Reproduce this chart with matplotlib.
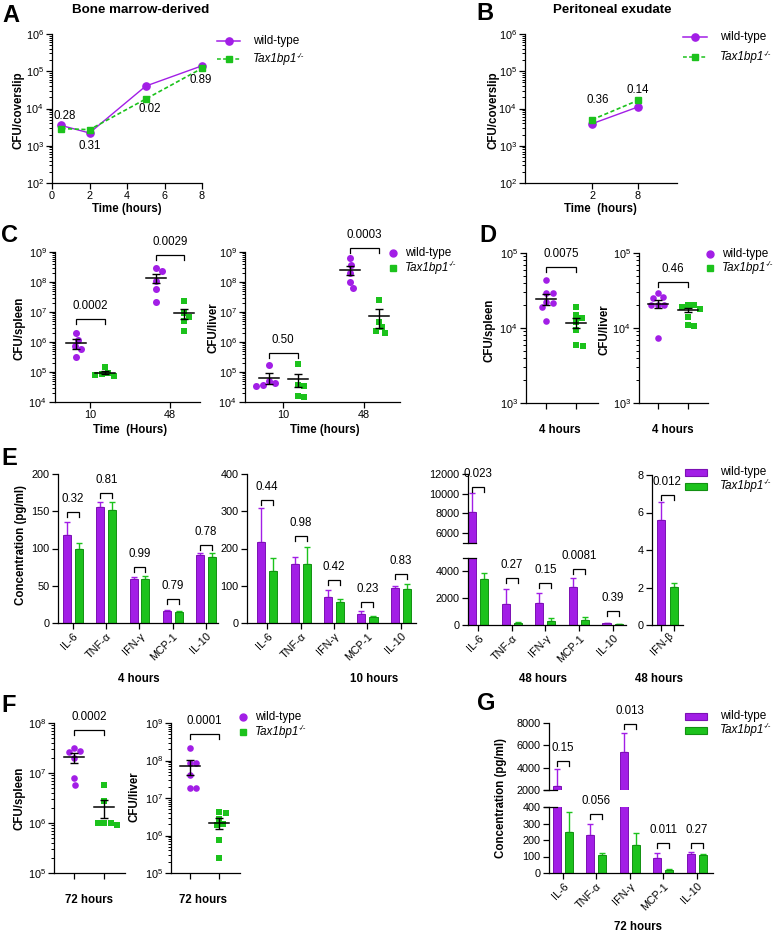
import numpy as np
import matplotlib
matplotlib.use('Agg')
import matplotlib.pyplot as plt
from matplotlib.lines import Line2D
from matplotlib.patches import Rectangle
from matplotlib.ticker import FixedLocator, NullFormatter, LogFormatterSciNotation

plt.rcParams['font.family'] = ['Liberation Sans', 'DejaVu Sans']
plt.rcParams['mathtext.fontset'] = 'custom'
plt.rcParams['mathtext.rm'] = 'Liberation Sans'
plt.rcParams['mathtext.it'] = 'Liberation Sans:italic'
plt.rcParams['mathtext.bf'] = 'Liberation Sans:bold'
plt.rcParams['axes.linewidth'] = 0.9

# ---------------- DATA ----------------
# A: bone marrow-derived macrophages
a_time = [0.5, 2, 5, 8]
a_wt = [3.5e3, 2.2e3, 4.0e4, 1.4e5]
a_ko = [2.9e3, 2.7e3, 1.8e4, 1.2e5]
a_p = ['0.28', '0.31', '0.02', '0.89']

# B: peritoneal exudate
b_time = ['2', '8']
b_wt = [3.9e3, 1.1e4]
b_ko = [5.0e3, 1.65e4]
b_p = ['0.36', '0.14']

# C: spleen / liver at 10 and 48 h
c_time = ['10', '48']
c_spleen_wt = [[2.0e6, 1.2e6, 7.4e5, 5.9e5, 3.2e5], [2.9e8, 2.4e8, 1.1e8, 5.7e7, 2.1e7]]
c_spleen_ko = [[1.45e5, 9.5e4, 8.8e4, 8.2e4, 7.6e4], [2.3e7, 9.5e6, 7.0e6, 5.2e6, 2.3e6]]
c_spleen_wt_mean = [9.3e5, 1.4e8]
c_spleen_wt_sem = [3.5e5, 4.5e7]
c_spleen_ko_mean = [9.5e4, 9.5e6]
c_spleen_ko_sem = [1.2e4, 3.5e6]
c_spleen_p = ['0.0002', '0.0029']
c_liver_wt = [[1.7e5, 5.0e4, 4.2e4, 3.6e4, 3.4e4], [6.2e8, 3.7e8, 2.0e8, 1.0e8, 6.2e7]]
c_liver_ko = [[1.8e5, 3.7e4, 3.4e4, 1.6e4, 1.5e4], [2.6e7, 4.8e6, 3.1e6, 2.3e6, 2.0e6]]
c_liver_wt_mean = [6.5e4, 2.5e8]
c_liver_wt_sem = [2.5e4, 8.0e7]
c_liver_ko_mean = [5.8e4, 7.6e6]
c_liver_ko_sem = [2.6e4, 4.6e6]
c_liver_p = ['0.50', '0.0003']

# D: 4 hours
d_spleen_wt = [4.4e4, 2.9e4, 2.9e4, 2.2e4, 2.15e4, 1.9e4, 1.23e4]
d_spleen_ko = [1.9e4, 1.5e4, 1.35e4, 1.2e4, 9.3e3, 5.9e3, 5.8e3]
d_spleen_mean = [2.4e4, 1.17e4]
d_spleen_sem = [4.0e3, 1.8e3]
d_spleen_p = '0.0075'
d_liver_wt = [2.9e4, 2.6e4, 2.5e4, 2.0e4, 2.0e4, 2.0e4, 7.3e3]
d_liver_ko = [2.0e4, 2.0e4, 1.9e4, 1.8e4, 1.4e4, 1.1e4, 1.05e4]
d_liver_mean = [2.1e4, 1.74e4]
d_liver_sem = [2.5e3, 1.3e3]
d_liver_p = '0.46'

# E: cytokines
cytokines = ['IL-6', 'TNF-α', 'IFN-γ', 'MCP-1', 'IL-10']
e4_wt = [118, 156, 59, 16, 91]
e4_wt_err = [17, 7, 3, 1, 3]
e4_ko = [100, 152, 59, 15, 89]
e4_ko_err = [7, 10, 4, 1.5, 5]
e4_p = ['0.32', '0.81', '0.99', '0.79', '0.78']
e10_wt = [217, 158, 71, 25, 94]
e10_wt_err = [92, 18, 17, 6, 6]
e10_ko = [139, 159, 56, 17, 91]
e10_ko_err = [36, 45, 9, 1.5, 13]
e10_p = ['0.44', '0.98', '0.42', '0.23', '0.83']
e48_wt = [8100, 1600, 1650, 2830, 120]
e48_wt_err = [1950, 1100, 750, 700, 50]
e48_ko = [3400, 150, 300, 370, 50]
e48_ko_err = [500, 50, 200, 240, 10]
e48_p = ['0.023', '0.27', '0.15', '0.0081', '0.39']
ifnb_label = ['IFN-β']
ifnb_wt = [5.6]
ifnb_wt_err = [0.95]
ifnb_ko = [2.05]
ifnb_ko_err = [0.17]
ifnb_p = '0.012'

# F: 72 hours
f_spleen_wt = [3.2e7, 2.8e7, 2.6e7, 2.0e7, 7.8e6, 5.8e6]
f_spleen_ko = [5.8e6, 2.8e6, 1.0e6, 1.0e6, 1.0e6, 9.0e5]
f_spleen_mean = [2.05e7, 2.05e6]
f_spleen_sem = [4.5e6, 8.0e5]
f_spleen_p = '0.0002'
f_liver_wt = [2.1e8, 8.7e7, 8.5e7, 4.2e7, 1.9e7, 1.9e7]
f_liver_ko = [4.3e6, 4.0e6, 2.7e6, 2.0e6, 1.9e6, 7.5e5, 2.5e5]
f_liver_mean = [7.1e7, 2.2e6]
f_liver_sem = [3.0e7, 7.0e5]
f_liver_p = '0.0001'

# G: cytokines 72 hours
g_wt = [2360, 230, 5400, 90, 116]
g_wt_err = [1500, 70, 1700, 30, 10]
g_ko = [246, 110, 170, 20, 110]
g_ko_err = [124, 10, 70, 5, 4]
g_p = ['0.15', '0.056', '0.013', '0.011', '0.27']

WT_LABEL = 'wild-type'
KO_NAME = 'Tax1bp1'
KO_SUP = '-/-'

# ---------------- STYLE ----------------
PURPLE = '#A21EE6'
PURPLE_E = '#7C10B4'
GREEN = '#1CC21C'
GREEN_E = '#129012'
TICK_FS = 7.8
P_FS = 8.3
LAB_FS = 8.3
LEG_FS = 8.5

W, H = 776, 933
fig = plt.figure(figsize=(W / 100, H / 100), dpi=100)
renderer = fig.canvas.get_renderer()


def axpx(x0, y0, x1, y1):
    return fig.add_axes([x0 / W, 1 - y1 / H, (x1 - x0) / W, (y1 - y0) / H])


def ftext(x, y, s, **kw):
    kw.setdefault('ha', 'center')
    kw.setdefault('va', 'center')
    return fig.text(x / W, 1 - y / H, s, **kw)


def style(ax, bottom=True):
    for s in ['top', 'right']:
        ax.spines[s].set_visible(False)
    if not bottom:
        ax.spines['bottom'].set_visible(False)
        ax.tick_params(axis='x', bottom=False, labelbottom=False)
    ax.tick_params(direction='out', length=4, width=0.9, labelsize=TICK_FS, pad=2)
    ax.tick_params(which='minor', direction='out', length=2, width=0.7)
    ax.patch.set_alpha(0)


def logy(ax, lo, hi):
    ax.set_yscale('log')
    ax.set_ylim(10 ** lo, 10 ** hi)
    ax.yaxis.set_major_locator(FixedLocator([10.0 ** k for k in range(lo, hi + 1)]))
    ax.yaxis.set_major_formatter(LogFormatterSciNotation())
    minors = [m * 10.0 ** k for k in range(lo, hi) for m in range(2, 10)]
    ax.yaxis.set_minor_locator(FixedLocator(minors))
    ax.yaxis.set_minor_formatter(NullFormatter())


def px_per_unit(ax):
    a = ax.transData.transform([(0, 1), (1, 1)])
    return a[1, 0] - a[0, 0]


def swarm(ax, vals, d_px):
    ys = ax.transData.transform(np.column_stack([np.zeros(len(vals)), vals]))[:, 1]
    offs = np.zeros(len(vals))
    placed = []
    cands = sorted(np.arange(-40, 40.5, 0.5), key=lambda c: (abs(c), -c))
    for i in np.argsort(-ys):
        for c in cands:
            if all((c - px) ** 2 + (ys[i] - py) ** 2 >= d_px ** 2 for px, py in placed):
                offs[i] = c
                placed.append((c, ys[i]))
                break
    return offs / px_per_unit(ax)


def points(ax, xc, vals, marker, color, d_px=7.0):
    xo = swarm(ax, vals, d_px * 0.98)
    ax.scatter(xc + xo, vals, s=(d_px * 0.72) ** 2, marker=marker, color=color,
               linewidths=0, zorder=3, clip_on=False)


def mean_sem(ax, x, m, s, hw_px=10):
    hw = hw_px / px_per_unit(ax)
    ax.plot([x - hw, x + hw], [m, m], color='k', lw=1.1, zorder=5, clip_on=False)
    ax.errorbar([x], [m], yerr=[[s], [s]], fmt='none', ecolor='k', elinewidth=1.0,
                capsize=3.2, capthick=1.0, zorder=5, clip_on=False)


def bracket(ax, x1, x2, y, text, leg=5, toff=13):
    d = ax.transData.transform([(x1, y)])
    yl = ax.transData.inverted().transform([(d[0, 0], d[0, 1] - leg)])[0, 1]
    ax.plot([x1, x1, x2, x2], [yl, y, y, yl], color='k', lw=0.9, clip_on=False,
            solid_joinstyle='miter', zorder=6)
    ax.annotate(text, xy=((x1 + x2) / 2, y), xytext=(0, toff * 0.72), textcoords='offset points',
                ha='center', va='center', fontsize=P_FS, annotation_clip=False)


def bars(ax, wt, wt_err, ko, ko_err, off=0.18, w=0.24):
    xs = np.arange(len(wt))
    n = len(wt)
    ax.bar(xs - off, wt, w, color=PURPLE, edgecolor=PURPLE_E, lw=0.7, zorder=2)
    ax.errorbar(xs - off, wt, yerr=[np.zeros(n), wt_err], fmt='none', ecolor=PURPLE,
                elinewidth=1.0, capsize=2, capthick=1.0, zorder=1)
    ax.bar(xs + off, ko, w, color=GREEN, edgecolor=GREEN_E, lw=0.7, zorder=2)
    ax.errorbar(xs + off, ko, yerr=[np.zeros(n), ko_err], fmt='none', ecolor=GREEN,
                elinewidth=1.0, capsize=2, capthick=1.0, zorder=1)


def cat_ticks(ax, labels):
    ax.set_xticks(np.arange(len(labels)))
    ax.set_xticklabels(labels, rotation=45, ha='right', va='top', rotation_mode='anchor',
                       fontsize=TICK_FS)


def break_cap(x, y):
    fig.add_artist(Line2D([(x - 5) / W, (x + 8) / W], [1 - y / H, 1 - y / H],
                          transform=fig.transFigure, color='k', lw=0.9))


def leg_line(x0, x1, y, color, ls, marker, ms):
    fig.add_artist(Line2D([x0 / W, x1 / W], [1 - y / H, 1 - y / H], transform=fig.transFigure,
                          color=color, ls=ls, lw=1.1))
    fig.add_artist(Line2D([(x0 + x1) / 2 / W], [1 - y / H], transform=fig.transFigure,
                          color=color, marker=marker, ms=ms, ls='none'))


def leg_marker(x, y, marker, color, ms):
    fig.add_artist(Line2D([x / W], [1 - y / H], transform=fig.transFigure, color=color,
                          marker=marker, ms=ms, ls='none'))


def leg_patch(x, y, fc, ec):
    fig.add_artist(Rectangle((x / W, 1 - (y + 3.5) / H), 22 / W, 7 / H, transform=fig.transFigure,
                             facecolor=fc, edgecolor=ec, lw=0.8))


def ltext(x, y, s):
    ftext(x, y, s, ha='left', fontsize=LEG_FS)


def ko_text(x, y):
    t = ftext(x, y, KO_NAME, ha='left', fontsize=LEG_FS, style='italic')
    bb = t.get_window_extent(renderer)
    fig.text((bb.x1 - 1.0) / W, (bb.y1 + 0.5) / H, KO_SUP, ha='left', va='top',
             fontsize=5.6, style='italic')


def legend_texts(x, y1, y2):
    ltext(x, y1, WT_LABEL)
    ko_text(x, y2)


def panel_letter(x, y, s):
    ftext(x, y, s, fontsize=17, fontweight='bold')


# ---------------- PANEL A ----------------
ax = axpx(52, 34, 202, 183)
style(ax)
logy(ax, 2, 6)
ax.set_xlim(0, 8)
ax.set_xticks([0, 2, 4, 6, 8])
ax.plot(a_time, a_wt, color=PURPLE, lw=1.0, marker='o', ms=5.2, zorder=3, clip_on=False)
ax.plot(a_time, a_ko, color=GREEN, lw=1.2, ls=(0, (2.5, 1.5)), marker='s', ms=4.5, zorder=3,
        clip_on=False)
a_txt = [(0.7, 6.3e3), (2.0, 1.0e3), (5.2, 9.8e3), (7.95, 5.9e4)]
for (tx, ty), s in zip(a_txt, a_p):
    ax.text(tx, ty, s, ha='center', va='center', fontsize=P_FS)
panel_letter(11, 15, 'A')
ftext(141, 10, 'Bone marrow-derived', fontsize=9.6, fontweight='bold')
ftext(19, 110, 'CFU/coverslip', rotation=90, fontsize=LAB_FS, fontweight='bold')
ftext(127, 209, 'Time (hours)', fontsize=LAB_FS, fontweight='bold')
leg_line(217, 240, 41, PURPLE, '-', 'o', 5.2)
leg_line(217, 240, 59, GREEN, (0, (2.5, 1.5)), 's', 4.5)
legend_texts(253, 41, 59)

# ---------------- PANEL B ----------------
ax = axpx(525, 34, 677, 183)
style(ax)
logy(ax, 2, 6)
ax.set_xlim(-1.46, 1.85)
ax.set_xticks([0, 1])
ax.set_xticklabels(b_time)
ax.plot([0, 1], b_wt, color=PURPLE, lw=1.0, marker='o', ms=5.2, zorder=3)
ax.plot([0, 1], b_ko, color=GREEN, lw=1.2, ls=(0, (2.5, 1.5)), marker='s', ms=4.5, zorder=3)
b_txt = [(0.12, 1.7e4), (1.0, 3.2e4)]
for (tx, ty), s in zip(b_txt, b_p):
    ax.text(tx, ty, s, ha='center', va='center', fontsize=P_FS)
panel_letter(485, 13, 'B')
ftext(612, 10, 'Peritoneal exudate', fontsize=9.6, fontweight='bold')
ftext(494, 110, 'CFU/coverslip', rotation=90, fontsize=LAB_FS, fontweight='bold')
ftext(600, 209, 'Time  (hours)', fontsize=LAB_FS, fontweight='bold')
leg_line(683, 707, 37, PURPLE, '-', 'o', 5.2)
leg_line(683, 707, 57, GREEN, (0, (2.5, 1.5)), 's', 4.5)
legend_texts(720, 37, 57)


# ---------------- PANEL C ----------------
def c_panel(rect, xlim, wt, ko, wtm, wts, kom, kos, pv, br_y, ylab, xlab, ylab_x, xlab_x):
    ax = axpx(*rect)
    style(ax)
    logy(ax, 4, 9)
    ax.set_xlim(*xlim)
    ax.set_xticks([0, 1])
    ax.set_xticklabels(c_time)
    off = 0.18
    for i in range(2):
        points(ax, i - off, wt[i], 'o', PURPLE, 7)
        points(ax, i + off, ko[i], 's', GREEN, 6.5)
        mean_sem(ax, i - off, wtm[i], wts[i])
        mean_sem(ax, i + off, kom[i], kos[i])
        bracket(ax, i - off, i + off, br_y[i], pv[i])
    ftext(ylab_x, 328, ylab, rotation=90, fontsize=LAB_FS, fontweight='bold')
    ftext(xlab_x, 430, xlab, fontsize=LAB_FS, fontweight='bold')
    return ax


c_panel((55, 252, 200, 402), (-0.44, 1.375), c_spleen_wt, c_spleen_ko, c_spleen_wt_mean,
        c_spleen_wt_sem, c_spleen_ko_mean, c_spleen_ko_sem, c_spleen_p, [5.9e6, 7.9e8],
        'CFU/spleen', 'Time  (Hours)', 20, 130)
c_panel((245, 252, 400, 402), (-0.47, 1.44), c_liver_wt, c_liver_ko, c_liver_wt_mean,
        c_liver_wt_sem, c_liver_ko_mean, c_liver_ko_sem, c_liver_p, [4.4e5, 1.36e9],
        'CFU/liver', 'Time (hours)', 213, 325)
panel_letter(10, 235, 'C')
leg_marker(393, 253, 'o', PURPLE, 5)
leg_marker(393, 268, 's', GREEN, 4.6)
legend_texts(405, 253, 268)


# ---------------- PANEL D / F (two-group scatter) ----------------
def two_group(rect, xlim, lo, hi, wt, ko, m, s, pv, br_y, ylab, ylab_x, ylab_y, xlab, xlab_x, xlab_y,
              d_px=6.6):
    ax = axpx(*rect)
    style(ax)
    logy(ax, lo, hi)
    ax.set_xlim(*xlim)
    ax.set_xticks([0, 1])
    ax.set_xticklabels([])
    points(ax, 0, wt, 'o', PURPLE, d_px)
    points(ax, 1, ko, 's', GREEN, d_px * 0.95)
    mean_sem(ax, 0, m[0], s[0])
    mean_sem(ax, 1, m[1], s[1])
    bracket(ax, 0, 1, br_y, pv)
    ftext(ylab_x, ylab_y, ylab, rotation=90, fontsize=LAB_FS, fontweight='bold')
    ftext(xlab_x, xlab_y, xlab, fontsize=LAB_FS, fontweight='bold')
    return ax


two_group((526, 253, 598, 403), (-0.67, 1.73), 3, 5, d_spleen_wt, d_spleen_ko, d_spleen_mean,
          d_spleen_sem, d_spleen_p, 6.5e4, 'CFU/spleen', 490, 330, '4 hours', 560, 430)
two_group((639, 253, 708, 403), (-0.63, 1.67), 3, 5, d_liver_wt, d_liver_ko, d_liver_mean,
          d_liver_sem, d_liver_p, 4.1e4, 'CFU/liver', 605, 330, '4 hours', 673, 430)
panel_letter(488, 235, 'D')
leg_marker(710, 254, 'o', PURPLE, 5)
leg_marker(710, 268, 's', GREEN, 4.6)
legend_texts(722, 254, 268)

two_group((54, 723, 125, 873), (-0.67, 1.69), 5, 8, f_spleen_wt, f_spleen_ko, f_spleen_mean,
          f_spleen_sem, f_spleen_p, 7.1e7, 'CFU/spleen', 20, 798, '72 hours', 89, 900)
two_group((171, 723, 240, 873), (-0.62, 1.69), 5, 9, f_liver_wt, f_liver_ko, f_liver_mean,
          f_liver_sem, f_liver_p, 5.0e8, 'CFU/liver', 135, 797, '72 hours', 203, 900)
panel_letter(9, 705, 'F')
leg_marker(243, 717, 'o', PURPLE, 5)
leg_marker(243, 732, 's', GREEN, 4.6)
legend_texts(255, 717, 732)

# ---------------- PANEL E ----------------
# 4 hours
ax = axpx(58, 474, 218, 623)
style(ax)
ax.set_ylim(0, 200)
ax.set_yticks([0, 50, 100, 150, 200])
ax.set_xlim(-0.45, 4.36)
bars(ax, e4_wt, e4_wt_err, e4_ko, e4_ko_err)
cat_ticks(ax, cytokines)
for i, (y, p) in enumerate(zip([149, 174, 75, 32, 105], e4_p)):
    bracket(ax, i - 0.18, i + 0.18, y, p)
ftext(139, 679, '4 hours', fontsize=LAB_FS, fontweight='bold')

# 10 hours
ax = axpx(247, 474, 416, 623)
style(ax)
ax.set_ylim(0, 400)
ax.set_yticks([0, 100, 200, 300, 400])
ax.set_xlim(-0.6, 4.45)
bars(ax, e10_wt, e10_wt_err, e10_ko, e10_ko_err)
cat_ticks(ax, cytokines)
for i, (y, p) in enumerate(zip([331, 234, 116, 57, 131], e10_p)):
    bracket(ax, i - 0.18, i + 0.18, y, p)
ftext(374, 679, '10 hours', fontsize=LAB_FS, fontweight='bold')

# 48 hours (broken axis)
axb = axpx(468, 558, 626, 625)
style(axb)
axb.set_ylim(0, 5000)
axb.set_yticks([0, 2000, 4000])
axb.set_xlim(-0.3, 4.4)
bars(axb, e48_wt, e48_wt_err, e48_ko, e48_ko_err)
cat_ticks(axb, cytokines)
axt = axpx(468, 474, 626, 543)
style(axt, bottom=False)
axt.set_ylim(5000, 12000)
axt.set_yticks([6000, 8000, 10000, 12000])
axt.set_xlim(-0.3, 4.4)
bars(axt, e48_wt, e48_wt_err, e48_ko, e48_ko_err)
bracket(axt, -0.18, 0.18, 10730, e48_p[0])
for i, (y, p) in enumerate(zip([3530, 3140, 4200, 1040], e48_p[1:]), start=1):
    bracket(axb, i - 0.18, i + 0.18, y, p)
break_cap(468, 543)
break_cap(468, 558)
ftext(543, 679, '48 hours', fontsize=LAB_FS, fontweight='bold')

# IFN-beta 48 hours
ax = axpx(652, 475, 683, 625)
style(ax)
ax.set_ylim(0, 8)
ax.set_yticks([0, 2, 4, 6, 8])
ax.set_xlim(-0.45, 0.46)
bars(ax, ifnb_wt, ifnb_wt_err, ifnb_ko, ifnb_ko_err, off=0.19, w=0.24)
ax.set_xticks([-0.19, 0.19])
ax.set_xticklabels([])
ax.text(0.02, -0.035, ifnb_label[0], transform=ax.get_xaxis_transform(), rotation=45,
        ha='right', va='top', rotation_mode='anchor', fontsize=TICK_FS)
bracket(ax, -0.19, 0.19, 6.93, ifnb_p)
ftext(659, 679, '48 hours', fontsize=LAB_FS, fontweight='bold')

panel_letter(9, 459, 'E')
ftext(21, 545, 'Concentration (pg/ml)', rotation=90, fontsize=LAB_FS, fontweight='bold')
leg_patch(685, 472, PURPLE, PURPLE_E)
leg_patch(685, 486, GREEN, GREEN_E)
legend_texts(720, 472, 486)

# ---------------- PANEL G ----------------
axb = axpx(549, 807, 713, 873)
style(axb)
axb.set_ylim(0, 400)
axb.set_yticks([0, 100, 200, 300, 400])
axb.set_xlim(-0.42, 4.49)
bars(axb, g_wt, g_wt_err, g_ko, g_ko_err)
cat_ticks(axb, cytokines)
axt = axpx(549, 723, 713, 790)
style(axt, bottom=False)
axt.set_ylim(2000, 8000)
axt.set_yticks([2000, 4000, 6000, 8000])
axt.set_xlim(-0.42, 4.49)
bars(axt, g_wt, g_wt_err, g_ko, g_ko_err)
bracket(axt, -0.18, 0.18, 4640, g_p[0])
bracket(axb, 1 - 0.18, 1 + 0.18, 356, g_p[1])
bracket(axt, 2 - 0.18, 2 + 0.18, 7910, g_p[2])
bracket(axb, 3 - 0.18, 3 + 0.18, 180, g_p[3])
bracket(axb, 4 - 0.18, 4 + 0.18, 180, g_p[4])
break_cap(549, 790)
break_cap(549, 807)
panel_letter(486, 704, 'G')
ftext(501, 798, 'Concentration (pg/ml)', rotation=90, fontsize=LAB_FS, fontweight='bold')
ftext(638, 927, '72 hours', fontsize=LAB_FS, fontweight='bold')
leg_patch(685, 716, PURPLE, PURPLE_E)
leg_patch(685, 730, GREEN, GREEN_E)
legend_texts(720, 716, 730)

fig.savefig('out.png', dpi=100)
